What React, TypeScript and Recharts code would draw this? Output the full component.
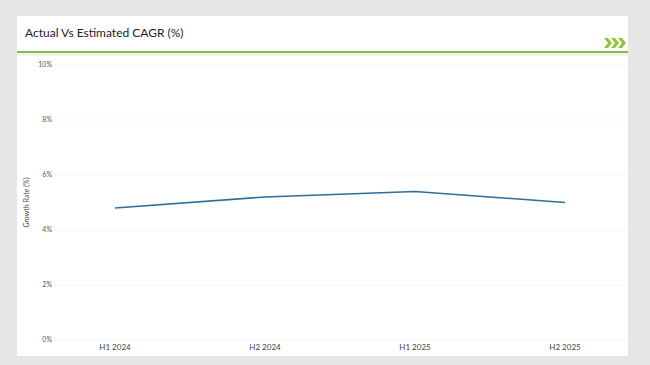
import { CartesianGrid, Label, Line, LineChart, XAxis, YAxis } from "recharts";

const periods = ["H1 2024", "H2 2024", "H1 2025", "H2 2025"];
const growthRate = [4.8, 5.2, 5.4, 5.0];
const yTicks = [0, 2, 4, 6, 8, 10];

const data = periods.map((period, i) => ({ period, rate: growthRate[i] }));

const font = "Lato, 'Open Sans', sans-serif";

function Chevrons() {
  // three filled arrow heads, like the brand mark in the header
  return (
    <svg width={22} height={10} style={{ position: "absolute", right: 2, top: 22 }}>
      {[0, 7, 14].map((x) => (
        <polygon key={x} points={`${x},0 ${x + 4},0 ${x + 8},5 ${x + 4},10 ${x},10 ${x + 4},5`} fill="#8dc63f" />
      ))}
    </svg>
  );
}

export default function App() {
  return (
    <div style={{ position: "fixed", left: 0, top: 0, width: 650, height: 365, background: "#e6e6e6", fontFamily: font }}>
      <div style={{ position: "absolute", left: 17, top: 16, width: 611, height: 340, background: "#fff" }}>
        <div style={{ height: 35, borderBottom: "2px solid #7cc242", position: "relative" }}>
          <div style={{ position: "absolute", left: 8, top: 9, fontSize: 12, color: "#222", fontWeight: 400 }}>
            Actual Vs Estimated CAGR (%)
          </div>
          <Chevrons />
        </div>
        <div style={{ height: 3, background: "#f2f2f2" }} />
        <LineChart width={611} height={300} data={data} margin={{ top: 9, right: 3, bottom: 0, left: 0 }}>
          <CartesianGrid vertical={false} stroke="#ececec" strokeDasharray="2 2" />
          <XAxis
            dataKey="period"
            axisLine={false}
            tickLine={false}
            tickSize={0}
            tickMargin={4}
            height={16}
            padding={{ left: 60, right: 60 }}
            tick={{ fontSize: 8, fill: "#444", fontFamily: font }}
          />
          <YAxis
            domain={[0, 10]}
            ticks={yTicks}
            tickFormatter={(v) => `${v}%`}
            axisLine={false}
            tickLine={false}
            tickSize={0}
            tickMargin={3}
            width={38}
            tick={{ fontSize: 7, fill: "#555", fontFamily: font }}
          >
            <Label
              value="Growth Rate (%)"
              angle={-90}
              position="insideLeft"
              offset={10}
              style={{ textAnchor: "middle", fontSize: 7, fill: "#444", fontFamily: font }}
            />
          </YAxis>
          <Line type="linear" dataKey="rate" stroke="#2d6e9c" strokeWidth={1.6} dot={false} activeDot={false} isAnimationActive={false} />
        </LineChart>
      </div>
    </div>
  );
}
